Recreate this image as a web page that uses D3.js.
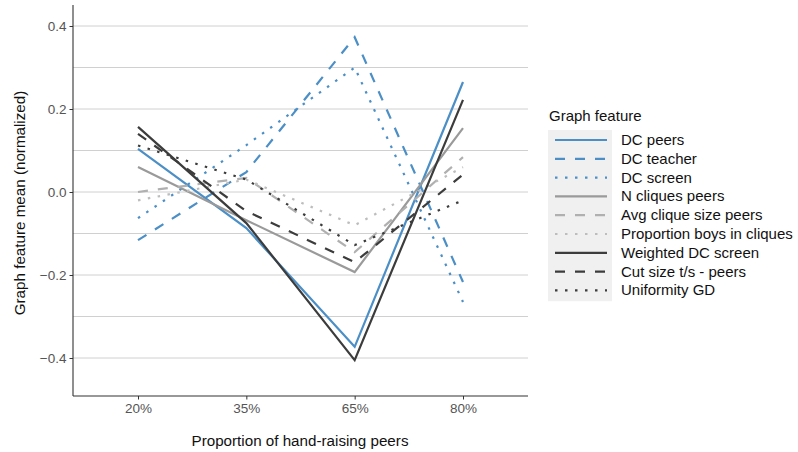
<!DOCTYPE html>
<html><head><meta charset="utf-8">
<script src="https://cdn.jsdelivr.net/npm/d3@7"></script>
<style>body{margin:0;background:#fff;} text{font-family:"Liberation Sans",Arial,sans-serif;}</style>
</head><body><svg id="c" width="798" height="452"></svg>
<script>
const categories = ["20%","35%","65%","80%"];
const seriesNames = ["DC peers","DC teacher","DC screen","N cliques peers","Avg clique size peers","Proportion boys in cliques","Weighted DC screen","Cut size t/s - peers","Uniformity GD"];
const dcPeers      = [0.104, -0.087, -0.373, 0.265];
const dcTeacher    = [-0.116, 0.048, 0.373, -0.217];
const dcScreen     = [-0.063, 0.113, 0.300, -0.265];
const nCliques     = [0.060, -0.068, -0.193, 0.154];
const avgClique    = [0.000, 0.034, -0.145, 0.084];
const propBoys     = [-0.020, 0.030, -0.080, 0.060];
const weightedDC   = [0.157, -0.075, -0.405, 0.222];
const cutSize      = [0.140, -0.046, -0.169, 0.042];
const uniformity   = [0.112, 0.030, -0.128, -0.020];
const yTicks = [-0.4, -0.2, 0.0, 0.2, 0.4];
const yGrid = [-0.4,-0.3,-0.2,-0.1,0.0,0.1,0.2,0.3,0.4];

const values = [dcPeers, dcTeacher, dcScreen, nCliques, avgClique, propBoys, weightedDC, cutSize, uniformity];
const blue = "#4b8fc6", mid = "#9a9a9a", light = "#b0b0b0", lighter = "#bdbdbd", dark = "#3c3c3c";
const colors = [blue, blue, blue, mid, light, lighter, dark, dark, dark];
const dashes = [null, "10,10", "2.5,7.5", null, "10,10", "2.5,7.5", null, "10,10", "2.5,7.5"];

const svg = d3.select("#c");
const L = 73, R = 528, T = 5, B = 396;
const x = d3.scalePoint().domain(categories).range([L, R]).padding(0.6);
const y = d3.scaleLinear().domain([-0.4, 0.4]).range([358, 26]);

// grid
svg.append("g").selectAll("line").data(yGrid).join("line")
  .attr("x1", L).attr("x2", R).attr("y1", d => y(d)).attr("y2", d => y(d))
  .attr("stroke", "#d0d0d0").attr("stroke-width", 1);

// lines
const line = d3.line().x((d, i) => x(categories[i])).y(d => y(d));
values.forEach((v, i) => {
  svg.append("path").datum(v).attr("d", line)
    .attr("fill", "none").attr("stroke", colors[i]).attr("stroke-width", 2.2)
    .attr("stroke-dasharray", dashes[i]);
});

// axes
const yAxis = d3.axisLeft(y).tickValues(yTicks).tickFormat(d3.format(".1f")).tickSize(3.5).tickPadding(3);
const gy = svg.append("g").attr("transform", `translate(${L},0)`).call(yAxis);
gy.select(".domain").remove();
gy.append("line").attr("x1", 0).attr("x2", 0).attr("y1", T).attr("y2", B).attr("stroke", "#333").attr("stroke-width", 1.1);
gy.selectAll(".tick line").attr("stroke", "#333");
gy.selectAll(".tick text").attr("fill", "#555").attr("font-size", 13.5).style("font-family", "Liberation Sans, Arial");

const xAxis = d3.axisBottom(x).tickSize(3.5).tickPadding(4);
const gx = svg.append("g").attr("transform", `translate(0,${B})`).call(xAxis);
gx.select(".domain").remove();
gx.append("line").attr("x1", L).attr("x2", R).attr("y1", 0).attr("y2", 0).attr("stroke", "#333").attr("stroke-width", 1.1);
gx.selectAll(".tick line").attr("stroke", "#333");
gx.selectAll(".tick text").attr("fill", "#555").attr("font-size", 13.5).style("font-family", "Liberation Sans, Arial");

// axis titles
svg.append("text").attr("x", 300).attr("y", 446).attr("text-anchor", "middle")
  .attr("font-size", 15.2).attr("fill", "#111").text("Proportion of hand-raising peers");
svg.append("text").attr("transform", "translate(25,203) rotate(-90)").attr("text-anchor", "middle")
  .attr("font-size", 15.2).attr("fill", "#111").text("Graph feature mean (normalized)");

// legend
const lg = svg.append("g");
lg.append("text").attr("x", 549).attr("y", 121).attr("font-size", 15).attr("fill", "#111").text("Graph feature");
const rowH = 18.8, y0 = 140;
lg.append("rect").attr("x", 548).attr("y", y0 - 10).attr("width", 64).attr("height", rowH * 9 + 2).attr("fill", "#f0f0f0");
seriesNames.forEach((n, i) => {
  const yy = y0 + i * rowH;
  lg.append("line").attr("x1", 555).attr("x2", 607).attr("y1", yy).attr("y2", yy)
    .attr("stroke", colors[i]).attr("stroke-width", 2.2).attr("stroke-dasharray", dashes[i]);
  lg.append("text").attr("x", 621).attr("y", yy + 5).attr("font-size", 15).attr("fill", "#111").text(n);
});
</script></body></html>
